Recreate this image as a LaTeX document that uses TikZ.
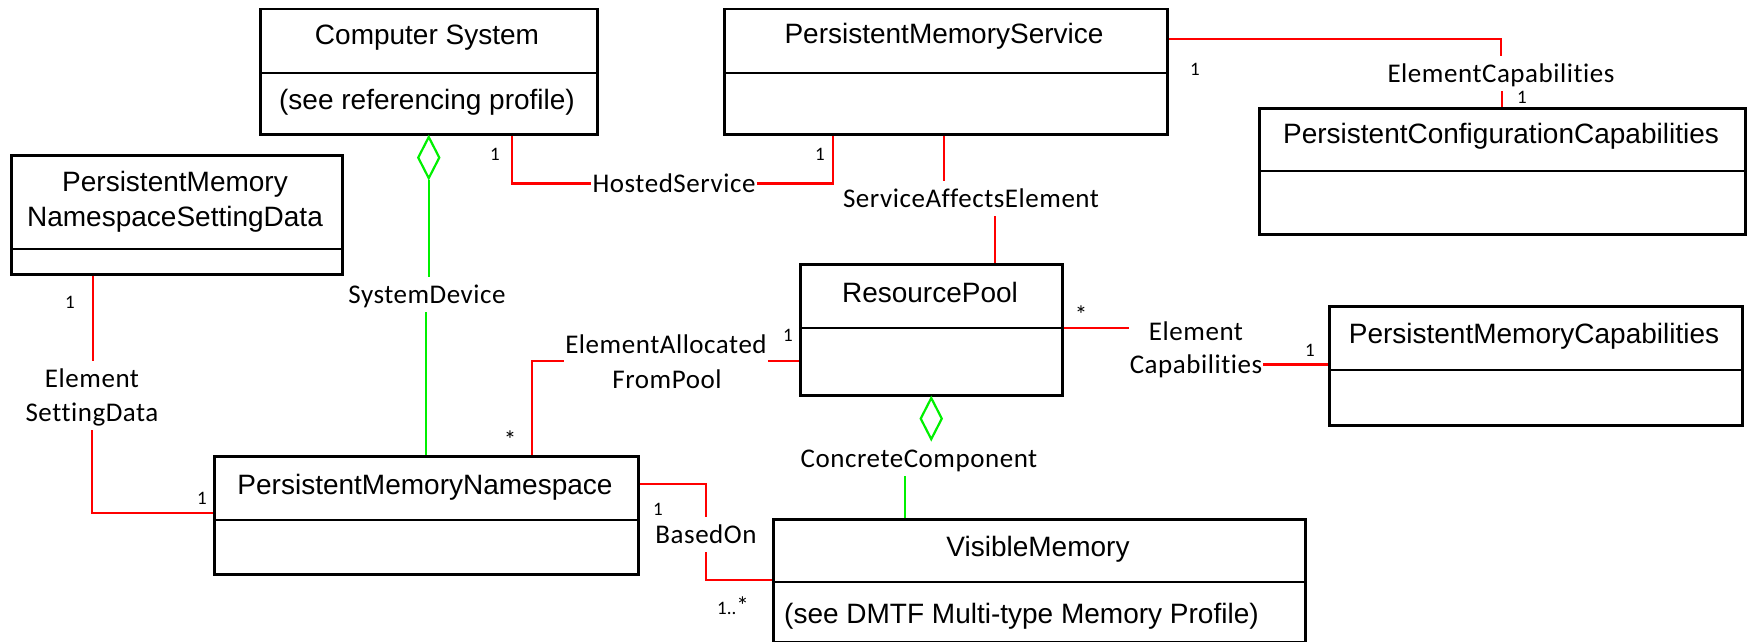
\documentclass[tikz,border=0pt]{standalone}
\usepackage{fontspec}
\setmainfont{Liberation Sans}
\newfontfamily\labfont[LetterSpace=2,Ligatures={NoCommon},RawFeature={-liga;-clig}]{Carlito}
\newfontfamily\mulfont[Ligatures={NoCommon}]{Carlito}
\usetikzlibrary{calc,shapes.geometric}
\definecolor{lred}{RGB}{255,0,0}
\definecolor{lgreen}{RGB}{0,240,0}
\tikzset{
  classbox/.style={draw=black, line width=2.5pt, inner sep=0pt, anchor=north west},
  cname/.style={font=\fontsize{28}{32}\selectfont, inner sep=0pt, anchor=base},
  lab/.style={font=\labfont\fontsize{27}{32}\selectfont, inner xsep=1pt, inner ysep=7pt, text height=19pt, text depth=2pt, anchor=base},
  mult/.style={font=\mulfont\fontsize{19}{22}\selectfont, inner sep=0pt},
  star/.style={font=\mulfont\fontsize{25}{28}\selectfont, inner sep=0pt},
  rline/.style={draw=lred, line width=2.4pt},
  gline/.style={draw=lgreen, line width=2.2pt},
  agg/.style={diamond, draw=lgreen, line width=2.2pt, fill=white, inner sep=0pt, minimum width=22pt, minimum height=42pt, anchor=north},
}
\begin{document}
\begin{tikzpicture}[x=1pt,y=-1pt]
\useasboundingbox (0,0) rectangle (1748,642);
% ---- classes
\node[classbox, minimum width=337, minimum height=125] (CS) at (259,8) {};
\draw[line width=2.5pt] (CS.west |- 0,73) -- (CS.east |- 0,73);
\node[cname] (CSt) at (427,45) {Computer System};
\node[cname] (CSb) at (427,110) {(see referencing profile)};

\node[classbox, minimum width=331, minimum height=119] (NSD) at (10,154) {};
\draw[line width=2.5pt] (NSD.west |- 0,249) -- (NSD.east |- 0,249);
\node[cname] (NSDa) at (175,191) {PersistentMemory};
\node[cname] (NSDb) at (175,226) {NamespaceSettingData};

\node[classbox, minimum width=443, minimum height=125] (PMS) at (723,8) {};
\draw[line width=2.5pt] (PMS.west |- 0,73) -- (PMS.east |- 0,73);
\node[cname] (PMSt) at (944,44) {PersistentMemoryService};

\node[classbox, minimum width=486, minimum height=126] (PCC) at (1258,107) {};
\draw[line width=2.5pt] (PCC.west |- 0,171) -- (PCC.east |- 0,171);
\node[cname] (PCCt) at (1501,143) {PersistentConfigurationCapabilities};

\node[classbox, minimum width=262, minimum height=131] (RP) at (799,263) {};
\draw[line width=2.5pt] (RP.west |- 0,328) -- (RP.east |- 0,328);
\node[cname] (RPt) at (930,302) {ResourcePool};

\node[classbox, minimum width=413, minimum height=119] (PMC) at (1328,305) {};
\draw[line width=2.5pt] (PMC.west |- 0,370) -- (PMC.east |- 0,370);
\node[cname] (PMCt) at (1534,343) {PersistentMemoryCapabilities};

\node[classbox, minimum width=424, minimum height=118] (PMN) at (213,455) {};
\draw[line width=2.5pt] (PMN.west |- 0,520) -- (PMN.east |- 0,520);
\node[cname] (PMNt) at (425,494) {PersistentMemoryNamespace};

\node[classbox, minimum width=532, minimum height=123] (VM) at (772,518) {};
\draw[line width=2.5pt] (VM.west |- 0,582) -- (VM.east |- 0,582);
\node[cname] (VMt) at (1038,556) {VisibleMemory};
\node[cname, anchor=base west] (VMb) at (784,623) {(see DMTF Multi-type Memory Profile)};

% ---- association labels
\node[lab] (HS) at (674,192) {HostedService};
\node[lab] (SAE) at (971,207) {ServiceAffectsElement};
\node[lab] (ECt) at (1501,82) {ElementCapabilities};
\node[lab] (SD) at (427,303) {SystemDevice};
\node[lab] (ESDa) at (92,387) {Element};
\node[lab] (ESDb) at (92,421) {SettingData};
\node[lab] (EAa) at (666,353) {ElementAllocated};
\node[lab] (EAb) at (667,388) {FromPool};
\node[lab] (ECa) at (1196,340) {Element};
\node[lab] (ECb) at (1196,373) {Capabilities};
\node[lab] (CC) at (919,467) {ConcreteComponent};
\node[lab] (BO) at (706,543) {BasedOn};

% ---- attach points
\coordinate (csB) at ($(CS.south west)+(253,0)$);
\coordinate (pmsB1) at ($(PMS.south west)+(110,0)$);
\coordinate (pmsB2) at ($(PMS.south west)+(221,0)$);
\coordinate (pmsR) at ($(PMS.north east)+(0,31)$);
\coordinate (rpT) at ($(RP.north west)+(196,0)$);
\coordinate (rpL) at ($(RP.north west)+(0,98)$);
\coordinate (rpR) at ($(RP.north east)+(0,65)$);
\coordinate (nsdB) at ($(NSD.south west)+(83,0)$);
\coordinate (pmnL) at ($(PMN.north west)+(0,58)$);
\coordinate (pmnT) at ($(PMN.north west)+(319,0)$);
\coordinate (pmnR) at ($(PMN.north east)+(0,29)$);
\coordinate (vmL) at ($(VM.north west)+(0,62)$);
\coordinate (vmT) at ($(VM.north west)+(133,0)$);

% ---- connectors
\draw[rline] (csB) |- (HS.west);
\draw[rline] (HS.east) -| (pmsB1);
\draw[rline] (pmsB2) -- (pmsB2 |- SAE.north);
\draw[rline, line width=1.8pt] (rpT |- SAE.south) -- (rpT);
\draw[rline] (pmsR) -| (ECt.north);
\draw[rline] (ECt.south -| PCC.north) -- (PCC.north);
\draw[rline] (nsdB) -- (nsdB |- ESDa.north);
\draw[rline] (ESDb.south) |- (pmnL);
\draw[rline] (pmnT) |- (EAa.west |- rpL);
\draw[rline] (EAa.east |- rpL) -- (rpL);
\draw[rline] (rpR) -- (ECb.west |- rpR);
\draw[rline] (ECb.east) -- (ECb.east -| PMC.west);
\draw[rline] (pmnR) -| (BO.north);
\draw[rline] (BO.south) |- (vmL);

\node[agg] (D1) at (CS.south) {};
\draw[gline] (D1.south) -- (D1.south |- SD.north);
\draw[gline] (SD.south -| PMN.north) -- (PMN.north);
\node[agg] (D2) at (RP.south) {};
\draw[gline, line width=1.8pt] (CC.south -| vmT) -- (vmT);

% ---- multiplicities
\node[mult] (m1) at (495,154) {1};
\node[mult] (m2) at (820,154) {1};
\node[mult] (m3) at (1195,69) {1};
\node[mult] (m4) at (1522,97) {1};
\node[mult] (m5) at (70,302) {1};
\node[mult] (m6) at (202,498) {1};
\node[star] (m7) at (510,440) {*};
\node[mult] (m8) at (788,335) {1};
\node[star] (m9) at (1081,315) {*};
\node[mult] (m10) at (1310,350) {1};
\node[mult] (m11) at (658,509) {1};
\node[mult, anchor=base] (m12) at (733,614) {1..\fontsize{25}{28}\selectfont*};
\end{tikzpicture}
\end{document}
